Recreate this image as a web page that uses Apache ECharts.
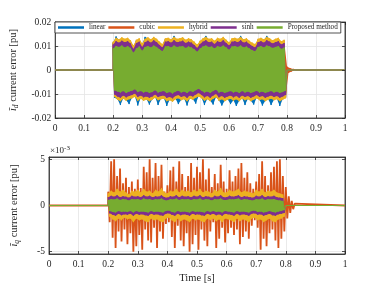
<!DOCTYPE html>
<html><head><meta charset="utf-8">
<script src="https://cdn.jsdelivr.net/npm/echarts@6/dist/echarts.min.js"></script>
<style>html,body{margin:0;padding:0;background:#fff}#c{width:381px;height:286px}</style>
</head><body><div id="c"></div>
<script>
const seriesNames = ['linear','cubic','hybrid','sinh','Proposed method'];
const seriesColors = ['#0072BD','#D95319','#EDB120','#7E2F8E','#77AC30'];
const tStart = 0.2, tStep = 0.005;
const xTickLabels = ['0','0.1','0.2','0.3','0.4','0.5','0.6','0.7','0.8','0.9','1'];
const bottomYTicks = [-5, 0, 5];

// top plot (i_d error), values in units of 1e-3 pu, alternating peaks every 0.005 s from t = 0.2
const topLinear = [11.4,-11.6,14.0,-12.2,12.4,-14.6,13.2,-11.8,12.6,-12.6,13.0,-14.2,12.0,-11.6,9.8,-11.0,12.2,-14.8,12.8,-11.8,
10.6,-12.6,13.8,-12.2,13.2,-14.4,12.4,-12.2,13.4,-11.4,12.6,-14.6,11.4,-12.0,10.4,-11.8,12.8,-15.0,13.0,-12.4,
12.4,-13.0,14.2,-12.0,12.6,-14.2,12.8,-12.4,13.2,-12.0,12.2,-14.8,12.8,-11.8,12.4,-12.2,11.4,-14.0,10.2,-10.8,
11.8,-11.6,12.8,-14.6,14.2,-12.0,12.6,-12.8,12.8,-14.4,11.8,-11.2,13.0,-12.6,12.6,-14.8,13.4,-12.8,12.2,-12.2,
11.2,-14.2,12.8,-12.6,13.0,-15.0,12.6,-12.8,14.2,-11.8,12.4,-14.6,12.8,-12.0,11.8,-12.8,11.0,-14.4,10.4,-11.6,
12.6,-12.4,13.0,-14.8,12.4,-12.8,14.2,-12.2,12.8,-14.6,12.0,-12.4,12.6,-12.0,13.0,-15.0,11.6,-12.2,12.2,-11.6];
const topCubic = [11.4,-10.8,13.0,-12.0,12.4,-12.6,13.2,-11.6,12.6,-12.4,13.0,-11.8,12.0,-11.4,9.8,-10.8,12.2,-12.4,12.8,-11.6,
10.6,-12.4,12.6,-12.0,13.2,-12.6,12.4,-12.0,13.4,-11.2,12.6,-12.2,11.4,-11.8,10.4,-11.6,12.8,-12.6,13.0,-12.2,
12.4,-12.8,13.4,-11.8,12.6,-11.4,12.8,-12.2,13.2,-11.8,12.2,-12.6,12.8,-11.6,12.4,-12.0,11.4,-11.2,10.2,-10.6,
11.8,-11.4,12.8,-12.4,13.4,-11.8,12.6,-12.6,12.8,-11.6,11.8,-11.0,13.0,-12.4,12.6,-11.8,13.4,-12.6,12.2,-12.0,
11.2,-11.6,12.8,-12.4,13.0,-11.8,12.6,-12.6,13.4,-11.6,12.4,-12.2,12.8,-11.8,11.8,-12.6,11.0,-12.0,10.4,-11.4,
12.6,-12.2,13.0,-11.8,12.4,-12.6,13.4,-12.0,12.8,-11.6,12.0,-12.2,12.6,-11.8,13.0,-12.6,11.6,-12.0,12.2,-11.4,
1.4,-1.2,0.8,-0.6,0.4,-0.2];
const topHybrid = [11.8,-11.2,13.4,-12.4,12.8,-13.0,13.6,-12.0,13.0,-12.8,13.4,-12.2,12.4,-11.8,10.2,-11.2,12.6,-12.8,13.2,-12.0,
11.0,-12.8,13.0,-12.4,13.6,-13.0,12.8,-12.4,13.8,-11.6,13.0,-12.6,11.8,-12.2,10.8,-12.0,13.2,-13.0,13.4,-12.6,
12.8,-13.2,13.8,-12.2,13.0,-11.8,13.2,-12.6,13.6,-12.2,12.6,-13.0,13.2,-12.0,12.8,-12.4,11.8,-11.6,10.6,-11.0,
12.2,-11.8,13.2,-12.8,13.8,-12.2,13.0,-13.0,13.2,-12.0,12.2,-11.4,13.4,-12.8,13.0,-12.2,13.8,-13.0,12.6,-12.4,
11.6,-12.0,13.2,-12.8,13.4,-12.2,13.0,-13.0,13.8,-12.0,12.8,-12.6,13.2,-12.2,12.2,-13.0,11.4,-12.4,10.8,-11.8,
13.0,-12.6,13.4,-12.2,12.8,-13.0,13.8,-12.4,13.2,-12.0,12.4,-12.6,13.0,-12.2,13.4,-13.0,12.0,-12.4,12.6,-11.8];
const topSinh = [10.6,-10.2,12.0,-11.0,11.4,-11.6,12.2,-10.6,11.6,-11.4,12.0,-10.8,11.0,-10.4,8.8,-9.8,11.2,-11.2,11.8,-10.6,
9.6,-11.4,11.6,-11.0,12.2,-11.6,11.4,-11.0,12.4,-10.2,11.6,-11.2,10.4,-10.8,9.4,-10.6,11.8,-11.6,12.0,-11.2,
11.4,-11.8,12.4,-10.8,11.6,-10.4,11.8,-11.2,12.2,-10.8,11.2,-11.6,11.8,-10.6,11.4,-11.0,10.4,-10.2,9.2,-9.6,
10.8,-10.4,11.8,-11.4,12.4,-10.8,11.6,-11.6,11.8,-10.6,10.8,-10.0,12.0,-11.4,11.6,-10.8,12.4,-11.6,11.2,-11.0,
10.2,-10.6,11.8,-11.4,12.0,-10.8,11.6,-11.6,12.4,-10.6,11.4,-11.2,11.8,-10.8,10.8,-11.6,10.0,-11.0,9.4,-10.4,
11.6,-11.2,12.0,-10.8,11.4,-11.6,12.4,-11.0,11.8,-10.6,11.0,-11.2,11.6,-10.8,12.0,-11.6,10.6,-11.0,11.2,-10.4];
const topProposed = [9.0,-8.5,10.0,-9.0,9.6,-9.4,10.2,-8.8,9.4,-9.6,10.0,-9.0,9.2,-8.6,7.2,-8.0,9.0,-9.2,9.8,-8.8,
8.0,-9.4,9.6,-9.0,10.0,-9.6,9.4,-9.2,10.2,-8.4,9.6,-9.4,8.6,-9.0,7.8,-8.8,9.8,-9.6,10.0,-9.2,
9.4,-9.8,10.2,-9.0,9.6,-8.6,9.8,-9.4,10.0,-9.0,9.2,-9.6,9.8,-8.8,9.4,-9.2,8.6,-8.4,7.6,-7.8,
9.0,-8.6,9.8,-9.4,10.2,-9.0,9.6,-9.6,9.8,-8.8,9.0,-8.2,10.0,-9.4,9.6,-9.0,10.2,-9.6,9.4,-9.2,
8.4,-8.8,9.8,-9.4,10.0,-9.0,9.6,-9.6,10.2,-8.8,9.4,-9.4,9.8,-9.0,9.0,-9.6,8.2,-9.2,7.8,-8.6,
9.6,-9.4,10.0,-9.0,9.4,-9.6,10.2,-9.2,9.8,-8.8,9.2,-9.4,9.6,-9.0,10.0,-9.6,8.8,-9.2,9.4,-8.6];

// bottom plot (i_q error), values in units of 1e-3 pu
const botLinear = [0.4,-0.4,0.5,-0.5,0.45,-0.55,0.55,-0.45,0.5,-0.5,0.45,-0.5,0.5,-0.45,0.4,-0.45,0.55,-0.5,0.45,-0.45,
0.5,-0.5,0.45,-0.5,0.55,-0.55,0.5,-0.45,0.5,-0.5,0.45,-0.55,0.5,-0.5,0.45,-0.45,0.55,-0.55,0.45,-0.5,
0.4,-0.4,0.5,-0.5,0.45,-0.55,0.55,-0.45,0.5,-0.5,0.45,-0.5,0.5,-0.45,0.5,-0.55,0.45,-0.45,0.5,-0.5,
0.45,-0.5,0.55,-0.5,0.45,-0.55,0.5,-0.45,0.5,-0.5,0.4,-0.45,0.5,-0.5,0.45,-0.5,0.55,-0.55,0.45,-0.45,
0.45,-0.5,0.5,-0.5,0.45,-0.55,0.5,-0.45,0.55,-0.5,0.45,-0.5,0.5,-0.5,0.45,-0.55,0.45,-0.45,0.4,-0.4,
0.5,-0.5,0.45,-0.5,0.55,-0.55,0.45,-0.5,0.5,-0.45,0.45,-0.5,0.5,-0.55,0.45,-0.5,0.4,-0.45,0.4,-0.4];
const botCubic = [1.5,-1.8,4.8,-3.5,5.0,-4.6,3.2,-2.8,4.0,-3.9,2.4,-2.6,3.0,-4.2,2.0,-3.0,2.6,-5.0,1.8,-4.4,
2.8,-3.2,1.9,-4.8,4.2,-2.6,3.6,-3.8,5.0,-4.0,3.0,-2.4,4.6,-4.6,3.2,-2.8,4.4,-3.6,1.5,-2.0,
2.2,-1.8,3.8,-3.4,4.2,-4.6,2.6,-2.2,4.8,-3.8,3.4,-4.4,2.0,-3.0,3.2,-5.0,4.6,-4.2,3.0,-3.2,
4.2,-4.8,3.6,-2.6,5.0,-3.8,2.8,-4.4,4.0,-2.8,2.0,-1.8,3.4,-4.6,2.4,-3.6,4.4,-2.4,2.6,-4.0,
1.8,-3.0,3.8,-2.4,2.6,-3.2,3.2,-2.6,4.0,-4.2,4.6,-3.4,3.0,-2.8,3.6,-3.6,2.4,-2.2,1.8,-1.6,
2.6,-2.4,3.4,-4.8,4.8,-3.6,3.2,-4.4,2.2,-3.0,3.6,-2.6,4.2,-3.8,4.8,-4.6,5.0,-3.6,3.2,-2.8,
2.0,-1.4,1.0,-0.8,0.5,-0.4,0.2];
const botHybrid = [1.3,-1.2,1.6,-1.5,1.4,-1.7,1.8,-1.4,1.5,-1.6,1.7,-1.3,1.4,-1.5,1.2,-1.4,1.6,-1.8,1.5,-1.4,
1.7,-1.6,1.4,-1.5,1.8,-1.7,1.5,-1.8,1.6,-1.4,1.3,-1.6,1.7,-1.5,1.5,-1.7,1.9,-1.8,1.4,-1.4,
1.3,-1.3,1.6,-1.6,1.5,-1.8,1.8,-1.4,1.4,-1.7,1.7,-1.5,1.5,-1.6,1.6,-1.8,1.4,-1.4,1.7,-1.6,
1.5,-1.5,1.8,-1.7,1.4,-1.8,1.6,-1.4,1.5,-1.6,1.3,-1.4,1.7,-1.7,1.5,-1.5,1.9,-1.8,1.4,-1.4,
1.4,-1.5,1.7,-1.6,1.5,-1.8,1.6,-1.4,1.8,-1.7,1.4,-1.5,1.6,-1.6,1.5,-1.8,1.4,-1.4,1.3,-1.3,
1.7,-1.6,1.5,-1.5,1.8,-1.8,1.4,-1.6,1.6,-1.4,1.5,-1.7,1.7,-1.8,1.4,-1.5,1.3,-1.4,1.2,-1.2];
const botSinh = [0.9,-0.85,1.05,-1.0,0.95,-1.1,1.1,-0.9,0.9,-1.05,1.0,-0.95,0.95,-1.0,0.85,-0.9,1.05,-1.1,0.95,-0.9,
1.0,-1.0,0.9,-0.95,1.1,-1.05,0.95,-1.1,1.05,-0.9,0.9,-1.0,1.0,-0.95,0.95,-1.05,1.1,-1.1,0.9,-0.9,
0.85,-0.85,1.0,-1.0,0.95,-1.1,1.1,-0.9,0.9,-1.05,1.05,-0.95,0.95,-1.0,1.0,-1.1,0.9,-0.9,1.05,-1.0,
0.95,-0.95,1.1,-1.05,0.9,-1.1,1.0,-0.9,0.95,-1.0,0.85,-0.9,1.05,-1.05,0.95,-0.95,1.1,-1.1,0.9,-0.9,
0.9,-0.95,1.05,-1.0,0.95,-1.1,1.0,-0.9,1.1,-1.05,0.9,-0.95,1.0,-1.0,0.95,-1.1,0.9,-0.9,0.85,-0.85,
1.05,-1.0,0.95,-0.95,1.1,-1.1,0.9,-1.0,1.0,-0.9,0.95,-1.05,1.05,-1.1,0.9,-0.95,0.85,-0.9,0.8,-0.8];
const botProposed = [0.6,-0.6,0.7,-0.7,0.65,-0.75,0.75,-0.6,0.6,-0.7,0.7,-0.65,0.65,-0.7,0.55,-0.6,0.7,-0.75,0.65,-0.6,
0.7,-0.7,0.6,-0.65,0.75,-0.7,0.65,-0.75,0.7,-0.6,0.6,-0.7,0.7,-0.65,0.65,-0.7,0.75,-0.75,0.6,-0.6,
0.55,-0.55,0.7,-0.7,0.65,-0.75,0.75,-0.6,0.6,-0.7,0.7,-0.65,0.65,-0.7,0.7,-0.75,0.6,-0.6,0.7,-0.7,
0.65,-0.65,0.75,-0.7,0.6,-0.75,0.7,-0.6,0.65,-0.7,0.55,-0.6,0.7,-0.7,0.65,-0.65,0.75,-0.75,0.6,-0.6,
0.6,-0.65,0.7,-0.7,0.65,-0.75,0.7,-0.6,0.75,-0.7,0.6,-0.65,0.7,-0.7,0.65,-0.75,0.6,-0.6,0.55,-0.55,
0.7,-0.7,0.65,-0.65,0.75,-0.75,0.6,-0.7,0.7,-0.6,0.65,-0.7,0.7,-0.75,0.6,-0.65,0.55,-0.6,0.5,-0.5];

const topData = [topLinear, topCubic, topHybrid, topSinh, topProposed];
const botData = [botLinear, botCubic, botHybrid, botSinh, botProposed];
// which traces are drawn as dense filled envelopes (true) or as bare spiky lines (false)
const topFilled = [true, true, true, true, true];
const botFilled = [true, false, true, true, true];

function build(vals, scale) {
  const pts = [[0, 0], [tStart, 0]];
  vals.forEach((v, i) => pts.push([+(tStart + i * tStep).toFixed(4), v * scale]));
  pts.push([+(tStart + vals.length * tStep).toFixed(4), 0]);
  pts.push([1, 0]);
  return pts;
}

const FONT = 'Liberation Serif';
const INK = '#262626';
const axLine = {show: true, onZero: false, lineStyle: {color: INK, width: 0.8}};
const tick = {show: true, inside: true, length: 3, lineStyle: {color: INK, width: 0.8}};
const gridLine = {show: true, lineStyle: {color: '#e4e4e4', width: 0.8}};
const lbl = {fontFamily: FONT, fontSize: 9.5, color: INK};

function xAxes(grid, withName) {
  return [
    {type: 'value', gridIndex: grid, min: 0, max: 1, interval: 0.1, axisLine: axLine, axisTick: tick,
     axisLabel: Object.assign({margin: 5, formatter: (v) => xTickLabels[Math.round(v * 10)]}, lbl), splitLine: gridLine,
     name: withName ? 'Time [s]' : '', nameLocation: 'middle', nameGap: 19,
     nameTextStyle: {fontFamily: FONT, fontSize: 10.5, color: INK}},
    {type: 'value', gridIndex: grid, position: 'top', min: 0, max: 1, interval: 0.1, axisLine: axLine,
     axisTick: tick, axisLabel: {show: false}, splitLine: {show: false}, z: 20}
  ];
}
const nameRich = {
  i: {fontFamily: FONT, fontSize: 10.5, fontStyle: 'italic', color: INK, lineHeight: 14, verticalAlign: 'middle'},
  s: {fontFamily: FONT, fontSize: 7.5, fontStyle: 'italic', color: INK, lineHeight: 14, verticalAlign: 'bottom'},
  t: {fontFamily: FONT, fontSize: 10.5, color: INK, lineHeight: 14, verticalAlign: 'middle'}
};

function bandSeries(vals, scale, k, g, z) {
  const color = seriesColors[k];
  return {
    type: 'custom', name: seriesNames[k], coordinateSystem: 'cartesian2d', z: z,
    xAxisIndex: g * 2, yAxisIndex: g * 2, data: [[0.5, 0]], clip: true, silent: true, animation: false,
    itemStyle: {color: color},
    renderItem: (params, api) => {
      const up = [], lo = [];
      vals.forEach((v, i) => {
        const p = api.coord([tStart + i * tStep, v * scale]);
        (i % 2 === 0 ? up : lo).push(p);
      });
      return {type: 'polygon', shape: {points: up.concat(lo.reverse())}, style: {fill: color}};
    }
  };
}

const series = [];
let zc = 2;
[[topData, topFilled], [botData, botFilled]].forEach(([set, filled], g) => {
  const scale = g === 0 ? 1e-3 : 1;
  set.forEach((vals, k) => {
    if (filled[k]) series.push(bandSeries(vals, scale, k, g, zc++));
    series.push({
      type: 'line', name: seriesNames[k], xAxisIndex: g * 2, yAxisIndex: g * 2, z: zc++,
      data: build(vals, scale), showSymbol: false, symbol: 'none', sampling: null,
      lineStyle: {color: seriesColors[k], width: filled[k] ? 1 : 1.8}, itemStyle: {color: seriesColors[k]},
      emphasis: {disabled: true}, silent: true, animation: false, clip: true
    });
  });
});

const chart = echarts.init(document.getElementById('c'), null, {renderer: 'canvas'});
chart.setOption({
  animation: false,
  backgroundColor: '#fff',
  grid: [
    {left: 49, top: 22, width: 296, height: 96, show: true, borderColor: INK, borderWidth: 0.8, backgroundColor: 'transparent'},
    {left: 49, top: 157, width: 296, height: 97, show: true, borderColor: INK, borderWidth: 0.8, backgroundColor: 'transparent'}
  ],
  xAxis: [...xAxes(0, false), ...xAxes(1, true)],
  yAxis: [
    {type: 'value', gridIndex: 0, min: -0.02, max: 0.02, interval: 0.01, axisLine: axLine, axisTick: tick,
     axisLabel: Object.assign({margin: 4}, lbl), splitLine: gridLine,
     name: '{i|ĩ}{s|d}{t| current error [pu]}', nameLocation: 'middle', nameGap: 28, nameRotate: 90,
     nameTextStyle: {rich: nameRich}},
    {type: 'value', gridIndex: 0, position: 'right', min: -0.02, max: 0.02, interval: 0.01, axisLine: axLine,
     axisTick: tick, axisLabel: {show: false}, splitLine: {show: false}, z: 20},
    {type: 'value', gridIndex: 1, min: -5.25, max: 5.25, axisLine: axLine,
     axisTick: Object.assign({customValues: bottomYTicks}, tick),
     axisLabel: Object.assign({margin: 4, customValues: bottomYTicks}, lbl), splitLine: gridLine,
     name: '{i|ĩ}{s|q}{t| current error [pu]}', nameLocation: 'middle', nameGap: 28, nameRotate: 90,
     nameTextStyle: {rich: nameRich}},
    {type: 'value', gridIndex: 1, position: 'right', min: -5.25, max: 5.25, axisLine: axLine, z: 20,
     axisTick: Object.assign({customValues: bottomYTicks}, tick), axisLabel: {show: false}, splitLine: {show: false}}
  ],
  legend: {
    left: 55, top: 22, orient: 'horizontal', padding: [2, 3], itemGap: 3, itemWidth: 26, itemHeight: 2.5,
    backgroundColor: '#fff', borderColor: INK, borderWidth: 0.8, z: 50,
    textStyle: {fontFamily: FONT, fontSize: 7.2, color: INK},
    data: seriesNames.map((n) => ({name: n, icon: 'rect'})), selectedMode: false
  },
  graphic: [{
    type: 'text', left: 50, top: 145, z: 50,
    style: {text: '×10{sup|-3}', fontFamily: FONT, fontSize: 9, fill: INK,
      rich: {sup: {fontFamily: FONT, fontSize: 7, fill: INK, verticalAlign: 'top', lineHeight: 12}}}
  }],
  series: series
});
</script></body></html>
